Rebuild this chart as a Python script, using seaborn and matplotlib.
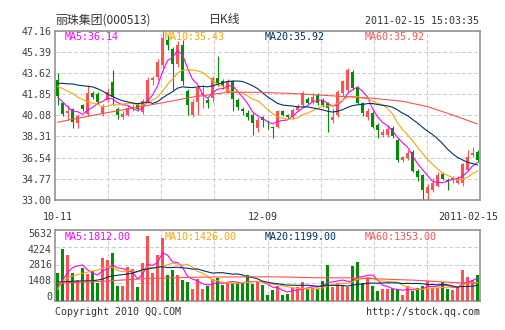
import numpy as np
import pandas as pd
import matplotlib
matplotlib.use("Agg")
import matplotlib.pyplot as plt
import matplotlib.transforms as mtransforms
import seaborn as sns

# Daily OHLC for 丽珠集团 (000513), 2010-10-11 .. 2011-02-15
opens = [43.0, 41.08, 40.25, 40.58, 39.4, 40.9, 40.19, 41.9, 41.85, 40.2,
         41.36, 42.83, 40.58, 39.95, 40.11, 40.58, 40.94, 40.38, 41.3, 43.0,
         43.3, 44.28, 46.4, 45.6, 44.4, 45.95, 42.13, 40.11, 41.2, 41.8,
         41.36, 41.5, 43.17, 42.9, 42.05, 42.9, 41.36, 40.6, 40.3, 40.1,
         39.0, 39.9, 39.05, 39.1, 39.1, 40.4, 40.1, 39.95, 40.5, 40.94,
         41.44, 41.2, 41.77, 41.36, 41.08, 39.69, 40.11, 41.9, 42.19, 43.7,
         42.33, 41.08, 39.96, 40.27, 39.27, 38.44, 38.44, 39.0, 38.02, 36.3,
         36.5, 37.04, 35.45, 35.1, 33.6, 33.84, 34.2, 35.2, 34.7, 34.68,
         34.45, 34.4, 35.5, 36.77, 37.04]
highs = [43.6, 41.2, 40.94, 40.7, 40.2, 41.0, 42.6, 42.1, 42.0, 41.0,
         42.33, 43.86, 40.8, 40.4, 40.9, 41.0, 41.1, 41.4, 43.3, 43.4,
         44.8, 47.16, 46.8, 45.8, 46.3, 46.37, 42.3, 41.4, 42.6, 42.6,
         41.5, 43.4, 45.03, 43.1, 43.1, 43.0, 41.5, 40.8, 40.5, 40.3,
         39.9, 40.0, 39.7, 39.2, 40.5, 40.5, 40.2, 40.7, 41.0, 42.1,
         41.6, 41.9, 41.9, 41.5, 41.2, 40.66, 42.2, 43.0, 44.0, 43.9,
         42.5, 41.2, 40.66, 40.4, 39.4, 38.9, 39.3, 39.2, 38.2, 36.7,
         37.2, 37.2, 35.6, 35.2, 34.3, 34.8, 35.37, 35.3, 34.85, 35.0,
         35.0, 36.1, 37.18, 37.46, 37.2]
lows = [40.9, 40.0, 39.69, 39.0, 39.0, 40.4, 40.0, 41.4, 41.0, 40.0,
        41.2, 40.94, 39.75, 39.8, 40.0, 40.4, 40.4, 40.19, 41.1, 42.6,
        43.0, 44.0, 45.5, 42.2, 44.1, 42.6, 40.11, 39.9, 40.1, 40.7,
        40.66, 41.2, 42.5, 42.3, 41.9, 40.4, 40.5, 40.1, 39.7, 38.4,
        38.7, 39.1, 38.95, 38.16, 39.0, 40.0, 39.8, 39.8, 40.4, 40.8,
        41.0, 41.0, 40.9, 40.8, 38.7, 39.4, 39.9, 41.7, 42.0, 42.2,
        41.0, 40.0, 39.69, 39.0, 38.19, 38.3, 38.3, 38.2, 36.2, 36.2,
        36.3, 35.3, 34.6, 33.0, 33.0, 33.7, 34.1, 34.7, 33.84, 34.4,
        34.3, 34.2, 35.4, 36.6, 36.2]
closes = [41.7, 40.19, 40.47, 39.55, 40.0, 40.6, 41.9, 41.6, 41.2, 40.8,
          42.05, 41.58, 40.11, 40.19, 40.66, 40.75, 40.58, 41.27, 43.03, 43.17,
          44.55, 46.5, 45.95, 44.4, 45.95, 42.9, 40.94, 41.2, 42.33, 41.9,
          41.13, 43.17, 42.75, 42.6, 42.9, 41.4, 40.75, 40.4, 39.9, 39.4,
          39.7, 39.7, 39.0, 38.99, 40.4, 40.1, 39.95, 40.52, 40.85, 41.94,
          41.13, 41.6, 41.08, 40.94, 40.66, 39.94, 42.05, 42.9, 43.86, 42.33,
          41.08, 40.27, 40.47, 39.1, 38.85, 38.71, 38.9, 38.35, 36.35, 36.6,
          36.9, 35.4, 34.95, 33.84, 34.1, 34.4, 35.1, 34.75, 34.5, 34.85,
          34.79, 36.0, 36.6, 36.96, 36.35]
volumes = [2200, 4050, 3600, 2200, 1650, 2600, 2100, 2350, 1400, 3400,
           3210, 3790, 1150, 1150, 2650, 2490, 1100, 2940, 5150, 2220,
           3630, 4970, 2030, 2430, 2030, 1630, 1500, 910, 1710, 910,
           1150, 1690, 1770, 1230, 1420, 1420, 1370, 1370, 2030, 1310,
           1500, 1230, 430, 830, 1150, 430, 510, 970, 1100, 1500,
           890, 970, 890, 1580, 2830, 1100, 1370, 1230, 1100, 2700,
           3020, 1370, 1850, 1150, 780, 900, 880, 950, 900, 456,
           1152, 776, 978, 1152, 1576, 1000, 1000, 1450, 950, 800,
           1110, 2450, 1900, 1600, 2000]

# Moving-average values before a full window of sessions is available
ma5_head = [41.6, 41.2, 40.8, 40.4]
ma10_head = [42.5, 42.3, 42.1, 41.9, 41.6, 41.4, 41.2, 41.1, 41.0]
ma20_head = [42.75, 42.75, 42.7, 42.7, 42.6, 42.55, 42.5, 42.45, 42.3, 42.1,
             41.85, 41.65, 41.45, 41.3, 41.2, 41.1, 41.05, 41.1, 41.2]
ma60_idx = [0, 10, 22, 27, 34, 40, 47, 53, 63, 69, 74, 79, 84]
ma60_vals = [39.5, 40.3, 41.2, 41.6, 42.0, 42.0, 41.9, 41.75, 41.5, 41.25, 40.8, 40.1, 39.35]

vma5_head = [1000, 1600, 2200, 2600]
vma10_head = [850, 1500, 1800, 1950, 2050, 2150, 2250, 2350, 2400]
vma20_head = [1470, 1480, 1500, 1520, 1540, 1550, 1560, 1570, 1620, 1700,
              1850, 1950, 2000, 2050, 2100, 2170, 2300, 2450, 2500]
vma60_idx = [0, 8, 18, 28, 40, 45, 52, 58, 65, 72, 78, 84]
vma60_vals = [1380, 1500, 1750, 1850, 1880, 1870, 1800, 1800, 1700, 1600, 1450, 1353]

price_ticks = [33.00, 34.77, 36.54, 38.31, 40.08, 41.85, 43.62, 45.39, 47.16]
volume_ticks = [0, 1408, 2816, 4224, 5632]
ma60_price_label = 35.92
date_labels = ["10-11", "12-09"]
date_positions = [0, 41]
last_date = "2011-02-15"

RED = "#ff4f4f"
GREEN = "#008f00"
MA_COLORS = ["#ff00ff", "#ffa500", "#003366", "#ff5050"]
FRAME = "#8c8c8c"
GRID = "#cfcfcf"
TEXT = "#404040"

sns.set_style("white")
plt.rcParams["font.family"] = ["DejaVu Sans Mono", "Noto Sans CJK SC"]
plt.rcParams["lines.scale_dashes"] = True


def moving_average(values, window, head):
    s = pd.Series(values, dtype=float).rolling(window).mean().to_numpy()
    s[:len(head)] = head
    return s


n = len(closes)
x = np.arange(n)
o = np.array(opens)
c = np.array(closes)
up = c >= o
colors = np.where(up, RED, GREEN)

ma5 = moving_average(closes, 5, ma5_head)
ma10 = moving_average(closes, 10, ma10_head)
ma20 = moving_average(closes, 20, ma20_head)
vma5 = moving_average(volumes, 5, vma5_head)
vma10 = moving_average(volumes, 10, vma10_head)
vma20 = moving_average(volumes, 20, vma20_head)

W, H = 505, 330
fig = plt.figure(figsize=(W / 100, H / 100), dpi=100)
fig.patch.set_facecolor("white")

def px_axes(left, top, right, bottom):
    return fig.add_axes([left / W, 1 - bottom / H, (right - left) / W, (bottom - top) / H])

ax = px_axes(55, 30.5, 480, 200)
axv = px_axes(55, 229.5, 480, 300.5)

xgrid = [-0.5 + (n / 8) * k for k in range(1, 8)]

for a in (ax, axv):
    a.set_xlim(-0.5, n - 0.5)
    a.set_xticks(xgrid)
    a.set_xticklabels([])
    a.tick_params(axis="both", length=0, pad=2.5, labelsize=7.2, colors=TEXT)
    a.grid(True, color=GRID, linewidth=0.75, linestyle=(0, (4, 2)))
    a.set_axisbelow(True)
    for sp in a.spines.values():
        sp.set_color(FRAME)
        sp.set_linewidth(1.1)

# Candles
ax.vlines(x, lows, highs, colors=colors, linewidth=0.8, zorder=2)
body = np.maximum(np.abs(c - o), 0.05)
ax.bar(x, body, bottom=np.minimum(o, c), width=0.78, color=colors, linewidth=0, zorder=3)

line_kw = dict(linewidth=0.8, estimator=None, legend=False, zorder=4)
for series, col in zip([ma5, ma10, ma20], MA_COLORS[:3]):
    sns.lineplot(x=x, y=series, color=col, ax=ax, **line_kw)
sns.lineplot(x=ma60_idx, y=ma60_vals, color=MA_COLORS[3], ax=ax, **line_kw)

ax.set_ylim(price_ticks[0], price_ticks[-1])
ax.set_yticks(price_ticks)
ax.set_yticklabels([f"{t:.2f}" for t in price_ticks])
ax.set_ylabel("")

price_legend = [("MA5", ma5[-1]), ("MA10", ma10[-1]), ("MA20", ma20[-1]), ("MA60", ma60_price_label)]
for k, ((name, val), col) in enumerate(zip(price_legend, MA_COLORS)):
    ax.text(0.0235 + 0.2353 * k, 0.963, f"{name}:{val:.2f}", transform=ax.transAxes,
            color=col, fontsize=7.2, va="center", ha="left", zorder=6)

# Volume
axv.bar(x, volumes, width=0.78, color=colors, linewidth=0, zorder=3)
for series, col in zip([vma5, vma10, vma20], MA_COLORS[:3]):
    sns.lineplot(x=x, y=series, color=col, ax=axv, **line_kw)
sns.lineplot(x=vma60_idx, y=vma60_vals, color=MA_COLORS[3], ax=axv, **line_kw)
axv.set_ylim(volume_ticks[0], volume_ticks[-1])
axv.set_yticks(volume_ticks)
axv.set_yticklabels([])
axv.set_ylabel("")
label_tf = mtransforms.blended_transform_factory(fig.transFigure, axv.transAxes)
for k, t in enumerate(volume_ticks):
    axv.text(52 / W, 0.048 + 0.223 * k, f"{t}", transform=label_tf, ha="right",
             va="center", fontsize=7.2, color=TEXT)

vol_legend = [("MA5", vma5[-1]), ("MA10", vma10[-1]), ("MA20", vma20[-1]), ("MA60", vma60_vals[-1])]
for k, ((name, val), col) in enumerate(zip(vol_legend, MA_COLORS)):
    axv.text(0.0235 + 0.2353 * k, 0.897, f"{name}:{val:.2f}", transform=axv.transAxes,
             color=col, fontsize=7.2, va="center", ha="left", zorder=6)

# Header, dates and footer
cjk = ["Noto Sans CJK SC", "DejaVu Sans"]
fig.text(55 / W, 1 - 20 / H, "丽珠集团(000513)", family=cjk, fontsize=8.6,
         color="#333333", va="center", ha="left")
fig.text(225 / W, 1 - 20 / H, "日K线", family=cjk, fontsize=8.6,
         color="#333333", va="center", ha="center")
fig.text(479 / W, 1 - 21.5 / H, "2011-02-15 15:03:35", fontsize=7.2,
         color="#333333", va="center", ha="right")

date_tf = mtransforms.blended_transform_factory(ax.transData, fig.transFigure)
for lab, pos in zip(date_labels, date_positions):
    ax.text(pos, 1 - 217.5 / H, lab, transform=date_tf, ha="center", va="center",
            fontsize=7.2, color="#333333")
fig.text(498 / W, 1 - 217.5 / H, last_date, ha="right", va="center",
         fontsize=7.2, color="#333333")

fig.text(55 / W, 1 - 312 / H, "Copyright 2010 QQ.COM", ha="left", va="center",
         fontsize=7.2, color="#333333")
fig.text(480 / W, 1 - 312 / H, "http://stock.qq.com", ha="right", va="center",
         fontsize=7.2, color="#333333")

fig.savefig("out.png", dpi=100, facecolor="white")
